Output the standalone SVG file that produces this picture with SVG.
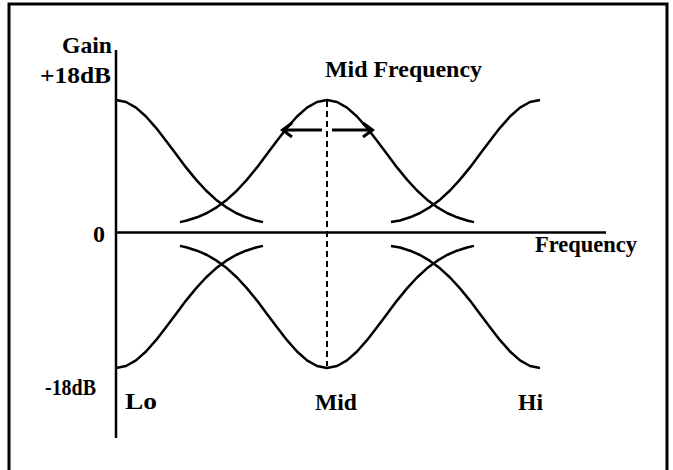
<svg xmlns="http://www.w3.org/2000/svg" xmlns:xlink="http://www.w3.org/1999/xlink" width="673" height="470" viewBox="0 0 673 470">
<style>
  .frame{fill:none;stroke:#000;stroke-width:3}
  .axis{fill:none;stroke:#000;stroke-width:2.5}
  .curve{fill:none;stroke:#000;stroke-width:2.5;stroke-linejoin:round;stroke-linecap:butt}
  .dash{fill:none;stroke:#000;stroke-width:2;stroke-dasharray:6 4}
  .arrow{fill:none;stroke:#000;stroke-width:3;stroke-linejoin:miter}
  text{font-family:"Liberation Serif","Times New Roman",serif;font-weight:bold;font-size:24px;fill:#000}
</style>
<defs>
  <polyline id="lo" points="116,100 126,102 136,107.6 146,116.5 156,127.8 166,140.7 176,154.1 186,167.4 196,179.6 206,190.5 216,199.7 226,207.1 236,213 246,217.3 256,220.5 263,222.1"/>
  <polyline id="mid" points="180,222.1 187,220.5 197,217.3 207,213 217,207.1 227,199.7 237,190.5 247,179.6 257,167.4 267,154.1 277,140.7 287,127.8 297,116.5 307,107.6 317,102 327,100 337,102 347,107.6 357,116.5 367,127.8 377,140.7 387,154.1 397,167.4 407,179.6 417,190.5 427,199.7 437,207.1 447,213 457,217.3 467,220.5 474,222.1"/>
  <polyline id="hi" points="391,222.1 400,220.5 410,217.3 420,213 430,207.1 440,199.7 450,190.5 460,179.6 470,167.4 480,154.1 490,140.7 500,127.8 510,116.5 520,107.6 530,102 540,100"/>
</defs>
<rect class="frame" x="9" y="4" width="658" height="480"/>
<g id="axes">
  <line class="axis" x1="116" y1="50" x2="116" y2="438"/>
  <line class="axis" x1="116" y1="232.5" x2="606" y2="232.5"/>
</g>
<g id="boost-curves" class="curve">
  <use xlink:href="#lo"/>
  <use xlink:href="#mid"/>
  <use xlink:href="#hi"/>
</g>
<g id="cut-curves" class="curve" transform="matrix(1,0,0,-1,0,468)">
  <use xlink:href="#lo"/>
  <use xlink:href="#mid"/>
  <use xlink:href="#hi"/>
</g>
<g id="connectors">
  <line class="dash" x1="327" y1="101" x2="327" y2="366"/>
  <path class="arrow" d="M284,130 H322 M292,123 L282.5,130 L292,137"/>
  <path class="arrow" d="M332,130 H371 M363,123 L372.5,130 L363,137"/>
</g>
<g id="labels">
  <text x="112" y="53" text-anchor="end" textLength="50" lengthAdjust="spacingAndGlyphs">Gain</text>
  <text x="40" y="83" textLength="71" lengthAdjust="spacingAndGlyphs">+18dB</text>
  <text x="93" y="242">0</text>
  <text x="45" y="395" textLength="51" lengthAdjust="spacingAndGlyphs">-18dB</text>
  <text x="325" y="77" textLength="157" lengthAdjust="spacingAndGlyphs">Mid Frequency</text>
  <text x="535" y="252" textLength="102" lengthAdjust="spacingAndGlyphs">Frequency</text>
  <text x="125" y="409" textLength="32" lengthAdjust="spacingAndGlyphs">Lo</text>
  <text x="315" y="410" textLength="42" lengthAdjust="spacingAndGlyphs">Mid</text>
  <text x="518" y="410" textLength="25" lengthAdjust="spacingAndGlyphs">Hi</text>
</g>
</svg>
